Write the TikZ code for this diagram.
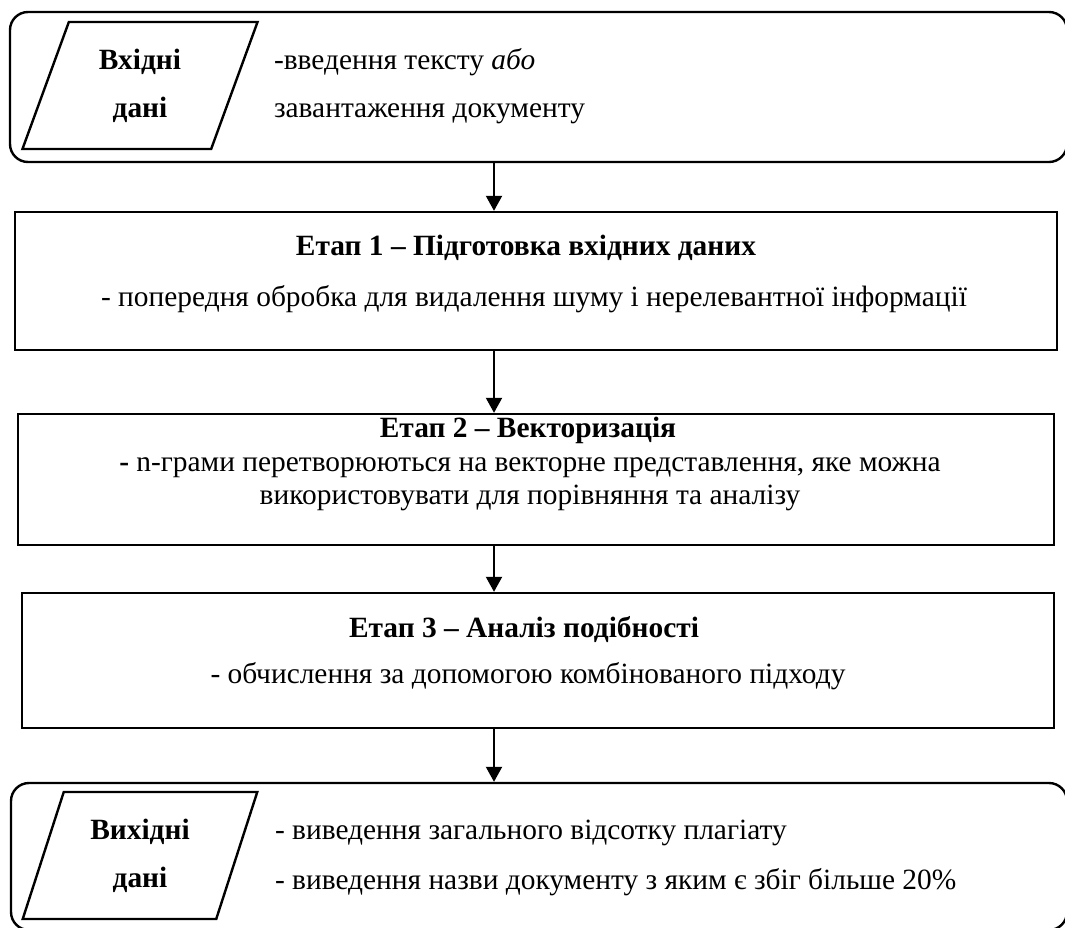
\documentclass[tikz,border=0pt]{standalone}
\usepackage{fontspec}
\setmainfont{Liberation Serif}
\usetikzlibrary{arrows.meta,shapes.geometric}

\begin{document}
\begin{tikzpicture} [x=0.5pt, y=-0.5pt,
            every node/.style={font=\fontsize{14.7}{24}\selectfont},
            frame/.style={draw, line width=1.2pt, rounded corners=9pt, inner sep=0pt},
            stage/.style={draw, line width=1.2pt, inner sep=0pt},
            io/.style={draw, line width=1.2pt, trapezium, trapezium left angle=70, trapezium right angle=110,
                trapezium stretches=true, minimum width=118pt, minimum height=63.5pt, inner sep=0pt,
                align=center, font=\fontsize{14.7}{24}\selectfont\bfseries},
            arr/.style={-{Triangle[length=7.5pt,width=8pt]}, line width=1pt}]
            \useasboundingbox (0,0) rectangle (1065,927);
            \clip (0,0) rectangle (1065,927);
            % input
            \node[frame, minimum width=528.5pt, minimum height=75pt] (inbox) at (538.5,87) {};
            \node[io] (inshape) at (140,85.5) {Вхідні\\дані};
            \node[anchor=west, align=left] (intext) at (267,86) {-введення тексту \textit{або}\\завантаження документу};
            % stage 1
            \node[stage, minimum width=521pt, minimum height=69pt] (st1) at (536,281) {};
            \node[font=\fontsize{14.7}{24}\selectfont\bfseries] (st1title) at (526,248) {Етап 1 – Підготовка вхідних даних};
            \node (st1text) at (534,299) {- попередня обробка для видалення шуму і нерелевантної інформації};
            % stage 2
            \node[stage, minimum width=518pt, minimum height=65.5pt] (st2) at (536,479.5) {};
            \node[font=\fontsize{14.7}{24}\selectfont\bfseries] (st2title) at (528,430) {Етап 2 – Векторизація};
            \node[align=center, font=\fontsize{14.7}{16.5}\selectfont] (st2text) at (530,484.5) {\textbf{-} n-грами перетворюються на векторне представлення, яке можна\\використовувати для порівняння та аналізу};
            % stage 3
            \node[stage, minimum width=516pt, minimum height=67.5pt] (st3) at (538,660.5) {};
            \node[font=\fontsize{14.7}{24}\selectfont\bfseries] (st3title) at (524,630) {Етап 3 – Аналіз подібності};
            \node (st3text) at (528,676) {- обчислення за допомогою комбінованого підходу};
            % output
            \node[frame, minimum width=528pt, minimum height=73.5pt] (outbox) at (539,856.5) {};
            \node[io] (outshape) at (140,855.5) {Вихідні\\дані};
            \node[anchor=west, align=left, font=\fontsize{14.7}{25}\selectfont] (outtext) at (268,858) {- виведення загального відсотку плагіату\\- виведення назви документу з яким є збіг більше 20\%};
            % arrows
            \coordinate (axis) at (494,0);
            \draw[arr] (inbox.south -| axis) -- (st1.north -| axis);
            \draw[arr] (st1.south -| axis) -- (st2.north -| axis);
            \draw[arr] (st2.south -| axis) -- (st3.north -| axis);
            \draw[arr] (st3.south -| axis) -- (outbox.north -| axis);
        \end{tikzpicture}
\end{document}
